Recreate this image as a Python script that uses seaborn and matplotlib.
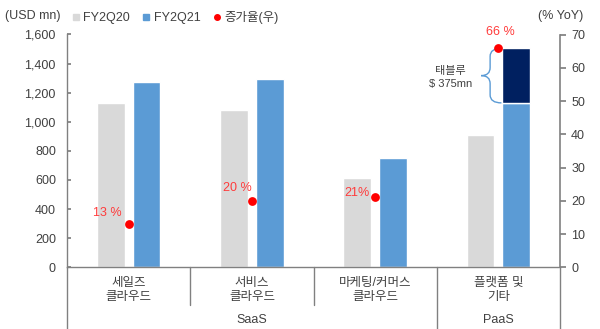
import numpy as np
import pandas as pd
import matplotlib.pyplot as plt
import seaborn as sns
from matplotlib.lines import Line2D
from matplotlib.path import Path
from matplotlib.patches import PathPatch
import matplotlib.transforms as mtransforms

# data
categories = ["세일즈\n클라우드", "서비스\n클라우드", "마케팅/커머스\n클라우드", "플랫폼 및\n기타"]
fy2q20 = [1129, 1084, 617, 907]
fy2q21 = [1273, 1296, 748, 1130]   # PaaS bar without Tableau
tableau = 375                       # stacked on PaaS FY2Q21
growth = [13, 20, 21, 66]
growth_labels = ["13 %", "20 %", "21%", "66 %"]
groups = ["SaaS", "PaaS"]

gray = "#D9D9D9"
blue = "#5B9BD5"
navy = "#002060"
red = "#FF0000"
txt = "#404040"
axc = "#808080"

sns.set_theme(style="white")
plt.rcParams['font.family'] = ['Liberation Sans', 'Noto Sans CJK KR']
plt.rcParams['text.color'] = txt

df = pd.DataFrame({
    "cat": categories * 2,
    "val": fy2q20 + fy2q21,
    "series": ["FY2Q20"] * 4 + ["FY2Q21"] * 4,
})

fig = plt.figure(figsize=(6, 3.29), dpi=100)
ax = fig.add_axes([67 / 600, 1 - 267.3 / 329, 493 / 600, 232.8 / 329])

sns.barplot(data=df, x="cat", y="val", hue="series", palette=[gray, blue],
            width=0.58, gap=0.23, legend=False, ax=ax, saturation=1)
# Tableau part stacked on PaaS FY2Q21
ax.bar(3 + 0.145, tableau, bottom=fy2q21[3], width=0.2235, color=navy)

ax.set_xlim(-0.5, 3.5)
ax.set_ylim(0, 1600)
ax.set_yticks(range(0, 1601, 200))
ax.set_yticklabels([f"{v:,}" for v in range(0, 1601, 200)])
ax.set_xlabel("")
ax.set_ylabel("")
ax.set_xticks([])
ax.tick_params(axis="y", direction="in", length=3, color=axc, labelsize=9,
               labelcolor=txt, pad=8, left=True)
for s in ["top", "right"]:
    ax.spines[s].set_visible(False)
for s in ["left", "bottom"]:
    ax.spines[s].set_color(axc)
    ax.spines[s].set_linewidth(1)

# secondary axis: growth
ax2 = ax.twinx()
sns.scatterplot(x=np.arange(len(growth)), y=growth, color=red, s=40,
                edgecolor=red, linewidth=0, ax=ax2, zorder=5, clip_on=False)
ax2.set_ylim(0, 70)
ax2.set_yticks(range(0, 71, 10))
ax2.tick_params(axis="y", direction="out", length=4, color=axc, labelsize=9,
                labelcolor=txt, pad=4, right=True)
for s in ["top", "left", "bottom"]:
    ax2.spines[s].set_visible(False)
ax2.spines["right"].set_color(axc)
ax2.spines["right"].set_linewidth(1.2)

offsets = [(-21, 11), (-15, 13), (-18, 4), (2, 16)]
for i, (g, lab) in enumerate(zip(growth, growth_labels)):
    ax2.annotate(lab, (i, g), xytext=offsets[i], textcoords="offset pixels",
                 ha="center", va="center", color="#FF3B3B", fontsize=9)

# category labels and dividers under the axis
tr = mtransforms.blended_transform_factory(ax.transData, ax.transAxes)
for i, c in enumerate(categories):
    ax.text(i, -0.097, c, transform=tr, ha="center", va="center",
            fontsize=9, color=txt, linespacing=1.28)
for x in [0.5, 1.5]:
    ax.plot([x, x], [0, -0.162], transform=tr, color=axc, lw=1, clip_on=False)
for x in [-0.5, 2.5, 3.5]:
    ax.plot([x, x], [0, -0.27], transform=tr, color=axc, lw=1, clip_on=False)
ax.text(1, -0.225, groups[0], transform=tr, ha="center", va="center", fontsize=9, color=txt)
ax.text(3, -0.225, groups[1], transform=tr, ha="center", va="center", fontsize=9, color=txt)

# brace for Tableau
top = fy2q21[3] + tableau
bot = fy2q21[3]
mid = (top + bot) / 2
xe, xl, xt = 3.025, 2.933, 2.86
ry = 55
verts = [(xe, top), (xl, top), (xl, top - ry),
         (xl, mid + ry), (xl, mid), (xt, mid),
         (xl, mid), (xl, mid - ry),
         (xl, bot + ry), (xl, bot), (xe, bot)]
codes = [Path.MOVETO, Path.CURVE3, Path.CURVE3,
         Path.LINETO, Path.CURVE3, Path.CURVE3,
         Path.CURVE3, Path.CURVE3,
         Path.LINETO, Path.CURVE3, Path.CURVE3]
ax.add_patch(PathPatch(Path(verts, codes), fill=False, edgecolor=blue, lw=1, clip_on=False))
ax.text(2.61, mid + 32, "태블루", ha="center", va="center", fontsize=8, color=txt)
ax.text(2.61, mid - 57, f"$ {tableau}mn", ha="center", va="center", fontsize=8, color=txt)

# titles of axes
fig.text(5 / 600, 1 - 16 / 329, "(USD mn)", ha="left", va="center", fontsize=9, color=txt)
fig.text(538 / 600, 1 - 16 / 329, "(% YoY)", ha="left", va="center", fontsize=9, color=txt)

handles = [
    Line2D([], [], marker="s", ls="", color=gray, markersize=4),
    Line2D([], [], marker="s", ls="", color=blue, markersize=4),
    Line2D([], [], marker="o", ls="", color=red, markersize=4),
]
fig.legend(handles, ["FY2Q20", "FY2Q21", "증가율(우)"], loc="center left",
           bbox_to_anchor=(72 / 600, 1 - 18 / 329), ncol=3, frameon=False,
           fontsize=9, handlelength=0.6, handletextpad=0.3, columnspacing=1.0,
           borderpad=0, borderaxespad=0)

fig.savefig("out.png", dpi=100)
